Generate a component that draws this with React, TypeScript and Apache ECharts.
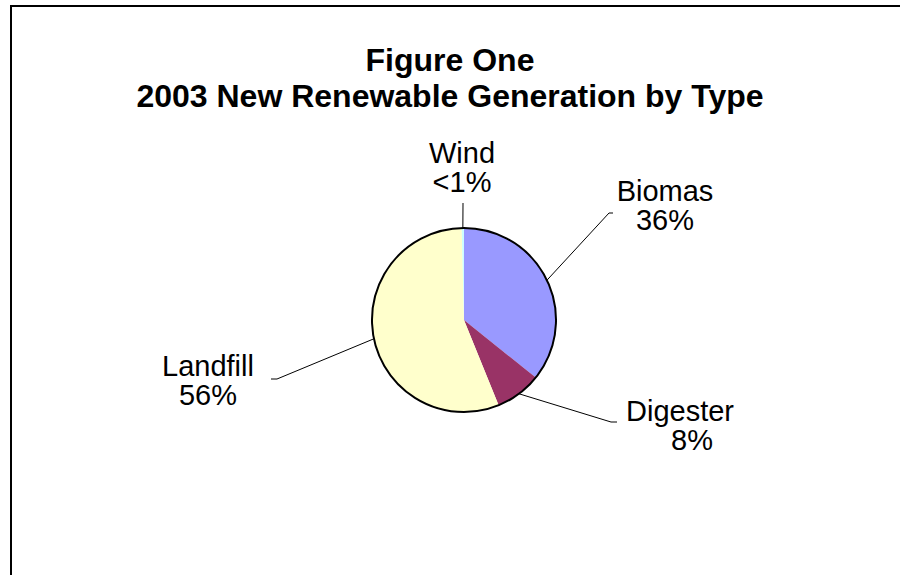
import React, { useEffect, useRef } from 'react';
import * as echarts from 'echarts';

// ---- data ----
const categories = ['Biomas', 'Digester', 'Landfill', 'Wind'];
const shares = [35.8, 8.1, 55.8, 0.4];
const sliceColors = ['#9999FF', '#993366', '#FFFFCC', '#CCFFFF'];
const titleLines = ['Figure One', '2003 New Renewable Generation by Type'];

// ---- label layout (placement only) ----
const labelPlacement = [
  { x: 665, y: 205, bend: [609, 213], end: [613, 213], pctPad: 0 },
  { x: 680, y: 425, bend: [611, 422], end: [617, 422], pctPad: 24 },
  { x: 208, y: 380, bend: [277, 379], end: [271, 379], pctPad: 0 },
  { x: 462, y: 167, bend: [463, 203], end: [463, 203], pctPad: 0 },
];

const FONT = '"Liberation Sans", Arial, Helvetica, sans-serif';
const PIE_CENTER = [464, 320];
const PIE_RADIUS = 92;

export default function App() {
  const ref = useRef<HTMLDivElement>(null);

  useEffect(() => {
    if (!ref.current) return;
    const chart = echarts.init(ref.current, null, { renderer: 'svg' });
    const total = shares.reduce((a, b) => a + b, 0);

    const rich: any = {
      n: { fontFamily: FONT, fontSize: 29, lineHeight: 29, color: '#000' },
    };
    labelPlacement.forEach((p, i) => {
      rich['p' + i] = {
        fontFamily: FONT,
        fontSize: 29,
        lineHeight: 29,
        color: '#000',
        padding: [0, 0, 0, p.pctPad],
      };
    });

    chart.setOption({
      animation: false,
      backgroundColor: '#ffffff',
      title: {
        text: titleLines.join('\n'),
        left: 'center',
        top: 37,
        textStyle: {
          fontFamily: FONT,
          fontSize: 32,
          fontWeight: 'bold',
          color: '#000',
          lineHeight: 36,
        },
      },
      graphic: [
        {
          type: 'rect',
          shape: { x: 11, y: 6, width: 1000, height: 1000 },
          style: { fill: 'none', stroke: '#000', lineWidth: 2 },
          silent: true,
        },
      ],
      series: [
        {
          type: 'pie',
          center: PIE_CENTER,
          radius: PIE_RADIUS,
          startAngle: 90,
          clockwise: true,
          avoidLabelOverlap: false,
          silent: true,
          data: categories.map((name, i) => ({
            name,
            value: shares[i],
            itemStyle: { color: sliceColors[i] },
          })),
          itemStyle: { borderWidth: 0 },
          label: {
            show: true,
            position: 'outside',
            fontFamily: FONT,
            fontSize: 29,
            lineHeight: 29,
            color: '#000',
            align: 'center',
            formatter: (p: any) =>
              '{n|' + p.name + '}\n{p' + p.dataIndex + '|' +
              (p.percent < 1 ? '<1%' : Math.round(p.percent) + '%') + '}',
            rich,
          },
          labelLine: {
            show: true,
            length: 20,
            length2: 6,
            lineStyle: { color: '#000', width: 1 },
          },
          labelLayout: (p: any) => {
            const a = labelPlacement[p.dataIndex];
            const pts = p.labelLinePoints;
            const start = pts && pts[0] ? pts[0] : a.bend;
            return {
              x: a.x,
              y: a.y,
              align: 'center',
              verticalAlign: 'middle',
              labelLinePoints: [start, a.bend, a.end],
            };
          },
          z: 2,
        },
        {
          type: 'pie',
          center: PIE_CENTER,
          radius: PIE_RADIUS,
          silent: true,
          data: [{ name: 'outline', value: total }],
          itemStyle: { color: 'rgba(0,0,0,0)', borderColor: '#000', borderWidth: 2 },
          label: { show: false },
          labelLine: { show: false },
          z: 3,
        },
      ],
    });

    return () => chart.dispose();
  }, []);

  return (
    <div
      ref={ref}
      style={{ position: 'fixed', left: 0, top: 0, width: 900, height: 575, background: '#fff' }}
    />
  );
}
